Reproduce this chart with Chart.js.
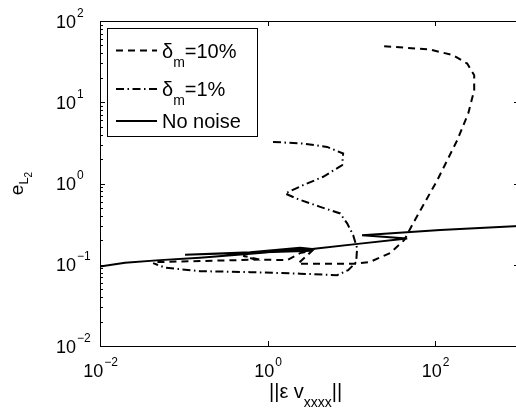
<!DOCTYPE html>
<html>
<head>
<meta charset="utf-8">
<script src="https://cdn.jsdelivr.net/npm/chart.js@4.4.0/dist/chart.umd.min.js"></script>
<style>
  html, body { margin: 0; padding: 0; background: #fff; }
  #wrap { width: 516px; height: 414px; overflow: hidden; }
  canvas { display: block; }
</style>
</head>
<body>
<div id="wrap"><canvas id="chart" width="522" height="414"></canvas></div>
<script>
const FONT = '"Liberation Sans", Arial, sans-serif';

// --- data ---
const seriesNames = ['δ_{m}=10%', 'δ_{m}=1%', 'No noise'];

const noise10X = [24.6, 87, 164, 241, 292, 292, 248, 183, 106, 54.6, 42.6, 29.0, 16.7, 11.4, 2.31, 3.40, 2.44, 1.71, 0.81, 0.51, 0.71, 0.156, 0.043];
const noise10Y = [48.9, 44.5, 37.9, 29.9, 21.5, 14.0, 7.3, 3.4, 1.1, 0.325, 0.201, 0.139, 0.1085, 0.103, 0.103, 0.149, 0.139, 0.114, 0.1155, 0.129, 0.1155, 0.111, 0.1076];

const noise1X = [1.16, 2.65, 5.13, 7.97, 7.76, 4.60, 2.65, 1.62, 2.31, 4.24, 7.34, 8.90, 10.5, 11.7, 11.4, 9.15, 6.76, 2.44, 0.62, 0.156, 0.060, 0.043];
const noise1Y = [3.25, 3.10, 2.82, 2.34, 1.68, 1.21, 0.953, 0.753, 0.641, 0.516, 0.428, 0.323, 0.231, 0.160, 0.1076, 0.0858, 0.0745, 0.0777, 0.0811, 0.0834, 0.0921, 0.1046];

const noNoiseX = [0.01, 0.0199, 0.052, 0.156, 0.62, 2.44, 3.40, 0.1035, 0.62, 2.44, 3.40, 12.7, 46.3, 13.4, 115, 1000];
const noNoiseY = [0.095, 0.106, 0.114, 0.122, 0.137, 0.153, 0.149, 0.133, 0.143, 0.162, 0.156, 0.182, 0.211, 0.231, 0.267, 0.30];

const xTickValues = [1e-2, 1e0, 1e2];
const xTickExps = ['−2', '0', '2'];
const yTickValues = [1e-2, 1e-1, 1e0, 1e1, 1e2];
const yTickExps = ['−2', '−1', '0', '1', '2'];

const xTitle = '||ε v_{xxxx}||';
const yTitle = 'e_{L_{2}}';

// --- helpers ---
const toPoints = (xs, ys) => xs.map((x, i) => ({ x, y: ys[i] }));

// split "a_{b}c" into runs with a sub level
function parseTex(s, level = 0) {
    const out = [];
    let buf = '';
    for (let i = 0; i < s.length; i++) {
        const c = s[i];
        if (c === '_') {
            if (buf) { out.push({ t: buf, level }); buf = ''; }
            if (s[i + 1] === '{') {
                let depth = 1, j = i + 2;
                while (j < s.length && depth > 0) {
                    if (s[j] === '{') depth++;
                    if (s[j] === '}') depth--;
                    j++;
                }
                out.push(...parseTex(s.slice(i + 2, j - 1), level + 1));
                i = j - 1;
            } else {
                out.push({ t: s[i + 1], level: level + 1 });
                i++;
            }
        } else {
            buf += c;
        }
    }
    if (buf) out.push({ t: buf, level });
    return out;
}

function texWidth(ctx, runs, st) {
    let w = 0;
    runs.forEach(r => { ctx.font = st.sizes[r.level] + 'px ' + FONT; w += ctx.measureText(r.t).width; });
    return w;
}

function drawTex(ctx, runs, x, y, st) {
    ctx.textAlign = 'left';
    ctx.textBaseline = 'alphabetic';
    runs.forEach(r => {
        ctx.font = st.sizes[r.level] + 'px ' + FONT;
        ctx.fillText(r.t, x, y + st.drops[r.level]);
        x += ctx.measureText(r.t).width;
    });
}

const legendText = { sizes: [20, 14, 11], drops: [0, 9, 14] };
const xTitleText = { sizes: [20, 14, 11], drops: [0, 9, 14] };
const yTitleText = { sizes: [19, 13, 10], drops: [0, 5, 9] };

// 10^n tick label; anchor 'center' or 'base' (the "10" right-aligned at x)
function drawPow(ctx, exp, x, y, anchor) {
    ctx.textBaseline = 'alphabetic';
    ctx.font = '18px ' + FONT;
    const wb = ctx.measureText('10').width;
    ctx.font = '12px ' + FONT;
    const we = ctx.measureText(exp).width;
    let x0 = anchor === 'center' ? x - (wb + we) / 2 : x - wb;
    ctx.textAlign = 'left';
    ctx.font = '18px ' + FONT;
    ctx.fillText('10', x0, y);
    ctx.font = '12px ' + FONT;
    ctx.fillText(exp, x0 + wb + 1, y - 11);
}

const axesPlugin = {
    id: 'matlabAxes',
    afterDraw(chart) {
        const { ctx, chartArea: a, scales } = chart;
        const xs = scales.x, ys = scales.y;
        ctx.save();
        ctx.strokeStyle = '#000';
        ctx.fillStyle = '#000';
        ctx.lineWidth = 1;
        ctx.strokeRect(Math.round(a.left) + 0.5, Math.round(a.top) + 0.5,
            Math.round(a.right - a.left), Math.round(a.bottom - a.top));

        ctx.beginPath();
        xTickValues.forEach(v => {
            const px = Math.round(xs.getPixelForValue(v)) + 0.5;
            ctx.moveTo(px, a.bottom); ctx.lineTo(px, a.bottom - 5);
            ctx.moveTo(px, a.top); ctx.lineTo(px, a.top + 5);
        });
        for (let e = -2; e < 2; e++) {
            for (let k = 1; k <= 9; k++) {
                const v = k * Math.pow(10, e);
                const py = Math.round(ys.getPixelForValue(v)) + 0.5;
                const len = k === 1 ? 5 : 3;
                ctx.moveTo(a.left, py); ctx.lineTo(a.left + len, py);
                ctx.moveTo(a.right, py); ctx.lineTo(a.right - len, py);
            }
        }
        ctx.stroke();

        xTickValues.forEach((v, i) => drawPow(ctx, xTickExps[i], xs.getPixelForValue(v), a.bottom + 31, 'center'));
        yTickValues.forEach((v, i) => drawPow(ctx, yTickExps[i], 76, ys.getPixelForValue(v) + 6.5, 'base'));

        // axis titles
        const xr = parseTex(xTitle);
        drawTex(ctx, xr, 269, 398, xTitleText);
        const yr = parseTex(yTitle);
        ctx.save();
        ctx.translate(23, (a.top + a.bottom) / 2);
        ctx.rotate(-Math.PI / 2);
        drawTex(ctx, yr, -texWidth(ctx, yr, yTitleText) / 2, 0, yTitleText);
        ctx.restore();

        // legend
        const box = { x: 107.5, y: 28.5, w: 150, h: 108 };
        ctx.fillStyle = '#fff';
        ctx.fillRect(box.x, box.y, box.w, box.h);
        ctx.strokeRect(box.x, box.y, box.w, box.h);
        const rows = [50.5, 89, 121];
        chart.data.datasets.forEach((ds, i) => {
            ctx.save();
            ctx.lineWidth = ds.borderWidth;
            ctx.setLineDash(ds.borderDash || []);
            ctx.beginPath();
            ctx.moveTo(116, rows[i]); ctx.lineTo(157, rows[i]);
            ctx.stroke();
            ctx.restore();
            ctx.fillStyle = '#000';
            drawTex(ctx, parseTex(seriesNames[i]), 162, rows[i] + 7, legendText);
        });
        ctx.restore();
    }
};

const lineStyle = { showLine: true, pointRadius: 0, borderColor: '#000', borderWidth: 2, tension: 0, fill: false };

new Chart(document.getElementById('chart'), {
    type: 'scatter',
    data: {
        datasets: [
            { ...lineStyle, label: seriesNames[0], data: toPoints(noise10X, noise10Y), borderDash: [7, 5] },
            { ...lineStyle, label: seriesNames[1], data: toPoints(noise1X, noise1Y), borderDash: [8, 3.5, 1.5, 3.5] },
            { ...lineStyle, label: seriesNames[2], data: toPoints(noNoiseX, noNoiseY), borderDash: [] }
        ]
    },
    options: {
        responsive: false,
        animation: false,
        layout: { padding: { left: 100, top: 21, right: 3, bottom: 68 } },
        plugins: { legend: { display: false }, tooltip: { enabled: false } },
        scales: {
            x: { type: 'logarithmic', min: 0.01, max: 1000, display: false },
            y: { type: 'logarithmic', min: 0.01, max: 100, display: false }
        }
    },
    plugins: [axesPlugin]
});
</script>
</body>
</html>
